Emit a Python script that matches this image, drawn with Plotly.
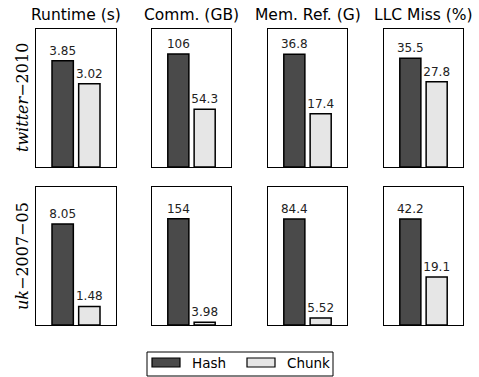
import plotly.graph_objects as go

metrics = ["Runtime (s)", "Comm. (GB)", "Mem. Ref. (G)", "LLC Miss (%)"]
graphs = ["twitter", "uk"]
graph_labels = ["<i>twitter</i>−2010", "<i>uk</i>−2007−05"]
series = ["Hash", "Chunk"]
hash_vals = [[3.85, 106, 36.8, 35.5], [8.05, 154, 84.4, 42.2]]
chunk_vals = [[3.02, 54.3, 17.4, 27.8], [1.48, 3.98, 5.52, 19.1]]

# layout (pixel geometry)
W, H = 479, 377
col_px = [(36, 116), (152, 231), (268, 347), (384, 463)]
row_px = [(29, 167), (187, 325)]
ymax = [[5.0, 129.5, 45.0, 45.0], [11.0, 200.0, 110.0, 55.0]]
colors = {"Hash": "#4a4a4a", "Chunk": "#e6e6e6"}

def px_x(x):
    return x / W

def px_y(y):
    return 1 - y / H

fig = go.Figure()
layout = {}
idx = 0
for r in range(2):
    for c in range(4):
        idx += 1
        xa = "x" if idx == 1 else f"x{idx}"
        ya = "y" if idx == 1 else f"y{idx}"
        for s, vals in zip(series, [hash_vals, chunk_vals]):
            fig.add_trace(go.Bar(
                x=[series.index(s)], y=[vals[r][c]], xaxis=xa, yaxis=ya,
                width=0.8, marker=dict(color=colors[s], line=dict(color="black", width=1.5)),
                texttemplate="%{y:.3g}", textposition="outside", constraintext="none",
                textfont=dict(family="DejaVu Sans", size=12, color="#222"),
                cliponaxis=False, showlegend=False, name=s, hoverinfo="skip",
            ))
        x0, x1 = col_px[c]
        y0, y1 = row_px[r]
        layout["xaxis" if idx == 1 else f"xaxis{idx}"] = dict(
            domain=[px_x(x0), px_x(x1)], range=[-1, 2], anchor=ya,
            showticklabels=False, ticks="", showgrid=False, zeroline=False,
            showline=True, mirror=True, linecolor="black", linewidth=1.2, fixedrange=True)
        layout["yaxis" if idx == 1 else f"yaxis{idx}"] = dict(
            domain=[px_y(y1), px_y(y0)], range=[0, ymax[r][c]], anchor=xa,
            showticklabels=False, ticks="", showgrid=False, zeroline=False,
            showline=True, mirror=True, linecolor="black", linewidth=1.2, fixedrange=True)

annotations = []
for c, m in enumerate(metrics):
    x0, x1 = col_px[c]
    annotations.append(dict(text=m, x=px_x((x0 + x1) / 2), y=px_y(15), xref="paper", yref="paper",
                            showarrow=False, xanchor="center", yanchor="middle",
                            font=dict(family="DejaVu Sans", size=15.5, color="black")))
for r, lab in enumerate(graph_labels):
    y0, y1 = row_px[r]
    annotations.append(dict(text=lab, x=px_x(22), y=px_y((y0 + y1) / 2), xref="paper", yref="paper",
                            showarrow=False, textangle=-90, xanchor="center", yanchor="middle",
                            font=dict(family="DejaVu Serif", size=16, color="black")))

# custom legend
shapes = [dict(type="rect", xref="paper", yref="paper", x0=px_x(147), x1=px_x(333),
               y0=px_y(376), y1=px_y(352), line=dict(color="black", width=1), fillcolor="white")]
for s, (px0, tx) in zip(series, [(152, 190), (247, 285)]):
    shapes.append(dict(type="rect", xref="paper", yref="paper", x0=px_x(px0), x1=px_x(px0 + 28),
                       y0=px_y(367), y1=px_y(358), line=dict(color="black", width=1.2),
                       fillcolor=colors[s]))
    annotations.append(dict(text=s, x=px_x(tx), y=px_y(363), xref="paper", yref="paper",
                            showarrow=False, xanchor="left", yanchor="middle",
                            font=dict(family="DejaVu Sans", size=13.5, color="black")))

fig.update_layout(width=W, height=H, margin=dict(l=0, r=0, t=0, b=0),
                  plot_bgcolor="white", paper_bgcolor="white", hovermode=False,
                  annotations=annotations, shapes=shapes, **layout)
fig.write_html("out.html", config={"displayModeBar": False, "staticPlot": True},
               post_script="document.body.style.margin='0';document.body.style.overflow='hidden';")
